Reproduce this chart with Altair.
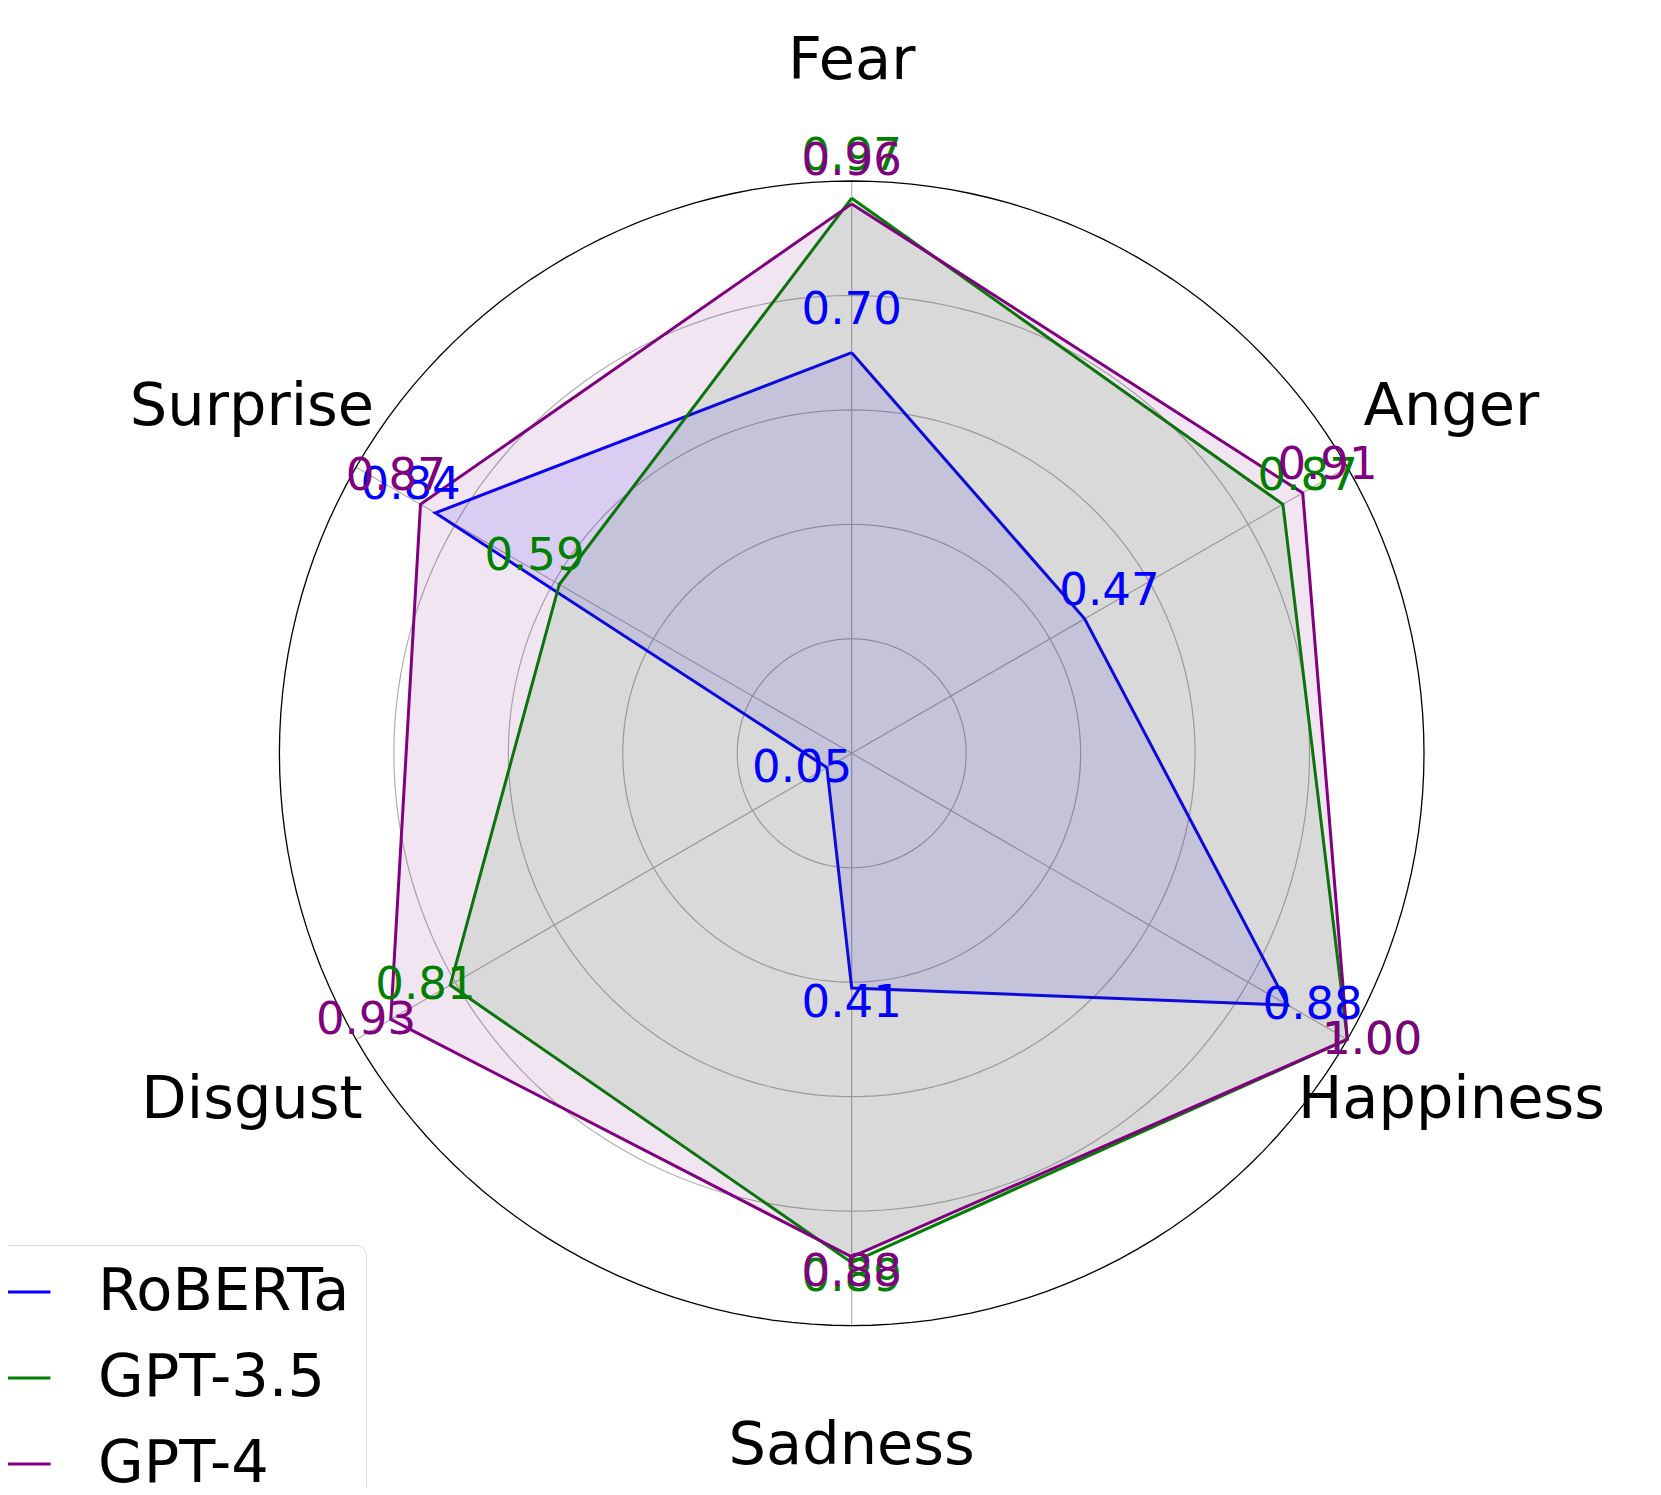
import altair as alt
import pandas as pd

# ---------------- data ----------------
categories = ["Fear", "Anger", "Happiness", "Sadness", "Disgust", "Surprise"]
models = ["RoBERTa", "GPT-3.5", "GPT-4"]
roberta = [0.70, 0.47, 0.88, 0.41, 0.05, 0.84]
gpt35 = [0.97, 0.87, 1.00, 0.89, 0.81, 0.59]
gpt4 = [0.96, 0.91, 1.00, 0.88, 0.93, 0.87]
colors = ["#0000ff", "#008000", "#800080"]
grid_levels = [0.2, 0.4, 0.6, 0.8]
outer_levels = [1.0]
circle_steps = list(range(0, 361, 2))  # degrees used to trace grid circles

# ---------------- tables ----------------
rows = []
for m, vals in zip(models, [roberta, gpt35, gpt4]):
    cats = categories + [categories[0]]
    vs = vals + [vals[0]]
    for i, (c, v) in enumerate(zip(cats, vs)):
        rows.append({"model": m, "category": c, "idx": i, "value": v})
series_df = pd.DataFrame(rows)

cat_df = pd.DataFrame({"category": categories, "idx": list(range(len(categories)))})

grid_df = pd.DataFrame([{"level": l, "deg": d} for l in grid_levels for d in circle_steps])
outer_df = pd.DataFrame([{"level": l, "deg": d} for l in outer_levels for d in circle_steps])

# ---------------- layout ----------------
W, H = 1645, 1479
CX, CY = 843.7, 745.3
R = 572.3
xs = alt.Scale(domain=[-CX / R, (W - CX) / R], nice=False, zero=False)
ys = alt.Scale(domain=[-(H - CY) / R, CY / R], nice=False, zero=False)
FONT = "DejaVu Sans"

THETA = "PI/2 - datum.idx*PI/3"

color_scale = alt.Scale(domain=models, range=colors)
legend = alt.Legend(
    orient="none", legendX=-34, legendY=1237, title=None,
    symbolType="stroke", symbolSize=3481, symbolStrokeWidth=3,
    labelFontSize=59, labelFont=FONT, labelOffset=46, labelLimit=1000,
    rowPadding=25, padding=16, strokeColor="#d9d9d9", cornerRadius=10,
    fillColor="white",
)


def circle_layer(df, color, width):
    return (
        alt.Chart(df)
        .transform_calculate(
            gx="datum.level*cos(datum.deg*PI/180)",
            gy="datum.level*sin(datum.deg*PI/180)",
        )
        .mark_line(stroke=color, strokeWidth=width)
        .encode(
            x=alt.X("gx:Q", scale=xs, axis=None),
            y=alt.Y("gy:Q", scale=ys, axis=None),
            detail="level:N",
            order="deg:Q",
        )
    )


grid = circle_layer(grid_df, "#b0b0b0", 1.2)
outer = circle_layer(outer_df, "#000000", 1.3)

spokes = (
    alt.Chart(cat_df)
    .transform_calculate(
        x0="0", y0="0",
        sx=f"cos({THETA})", sy=f"sin({THETA})",
    )
    .mark_rule(stroke="#b0b0b0", strokeWidth=1.2)
    .encode(
        x=alt.X("x0:Q", scale=xs, axis=None),
        y=alt.Y("y0:Q", scale=ys, axis=None),
        x2="sx:Q",
        y2="sy:Q",
    )
)

polys = []
texts = []
for m, c in zip(models, colors):
    base = (
        alt.Chart(series_df)
        .transform_filter(alt.datum.model == m)
        .transform_calculate(
            px=f"datum.value*cos({THETA})",
            py=f"datum.value*sin({THETA})",
            tx=f"(datum.value+0.05)*cos({THETA})",
            ty=f"(datum.value+0.05)*sin({THETA})",
            lbl="format(datum.value, '.2f')",
        )
    )
    polys.append(
        base.mark_line(strokeWidth=3, fill=c, fillOpacity=0.1).encode(
            x=alt.X("px:Q", scale=xs, axis=None),
            y=alt.Y("py:Q", scale=ys, axis=None),
            order="idx:Q",
            stroke=alt.Stroke("model:N", scale=color_scale, legend=legend),
        )
    )
    texts.append(
        base.transform_filter(alt.datum.idx < 6)
        .mark_text(font=FONT, fontSize=45, align="center", baseline="alphabetic", color=c)
        .encode(
            x=alt.X("tx:Q", scale=xs, axis=None),
            y=alt.Y("ty:Q", scale=ys, axis=None),
            text="lbl:N",
        )
    )

cat_labels = (
    alt.Chart(cat_df)
    .transform_calculate(
        lx=f"1.21*cos({THETA})",
        ly=f"1.21*sin({THETA})",
    )
    .mark_text(font=FONT, fontSize=59, align="center", baseline="middle", color="black")
    .encode(
        x=alt.X("lx:Q", scale=xs, axis=None),
        y=alt.Y("ly:Q", scale=ys, axis=None),
        text="category:N",
    )
)

chart = (
    alt.layer(grid, spokes, outer, *polys, *texts, cat_labels)
    .properties(width=W, height=H, autosize=alt.AutoSizeParams(type="none"), padding=0)
    .configure_view(stroke=None)
)

chart.save("out.html", embed_options={"renderer": "svg", "actions": False})
